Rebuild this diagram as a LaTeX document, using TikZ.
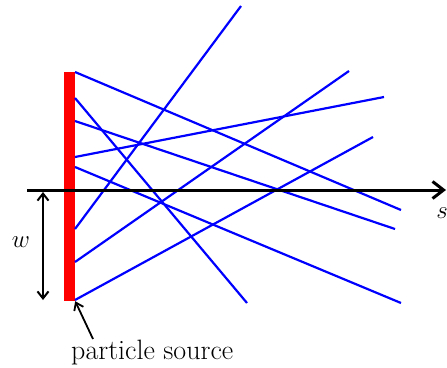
\documentclass[tikz,border=0pt]{standalone}
\usetikzlibrary{arrows.meta,positioning}

\begin{document}
\begin{tikzpicture}[x=1pt, y=-1pt,
      font=\rmfamily\fontsize{28}{32}\selectfont,
      ray/.style={blue, line width=2.2pt},
      axis/.style={line width=3pt, -{Straight Barb[length=11pt, width=17pt]}},
      dim/.style={line width=2pt, {Straight Barb[length=7pt, width=11pt]}-{Straight Barb[length=7pt, width=11pt]}},
      lbl/.style={inner sep=0pt, anchor=base},
    ]
    \useasboundingbox (0,0) rectangle (447,367);
    \node[fill=red, inner sep=0pt, minimum width=11pt, minimum height=229pt] (src) at (69.5,186.5) {};

    % rays leaving the source
    \coordinate (r1) at (75,72);
    \coordinate (r2) at (75,98);
    \coordinate (r3) at (75,121);
    \coordinate (r4) at (75,157);
    \coordinate (r5) at (75,167);
    \coordinate (r6) at (75,229);
    \coordinate (r7) at (75,262);
    \coordinate (r8) at (75,300);
    \draw[ray] (r1) -- (401,210);
    \draw[ray] (r2) -- (247,303);
    \draw[ray] (r3) -- (395,229);
    \draw[ray] (r4) -- (384,97);
    \draw[ray] (r5) -- (401,303);
    \draw[ray] (r6) -- (241,6);
    \draw[ray] (r7) -- (349,71);
    \draw[ray] (r8) -- (373,137);

    \coordinate (a0) at (27,190);
    \coordinate (a1) at (446,190);
    \draw[axis] (a0) -- (a1);
    \node[lbl] (s) at (442,218) {$s$};

    \coordinate (w0) at (43,192);
    \coordinate (w1) at (43,300);
    \draw[dim] (w0) -- (w1);
    \node[lbl] (w) at (21,247) {$w$};

    \node[lbl, anchor=base west] (ps) at (71,359) {particle source};
    \draw[line width=1.8pt, -{Straight Barb[length=7pt, width=10pt]}] (93,339) -- (src.south east);
  \end{tikzpicture}
\end{document}
